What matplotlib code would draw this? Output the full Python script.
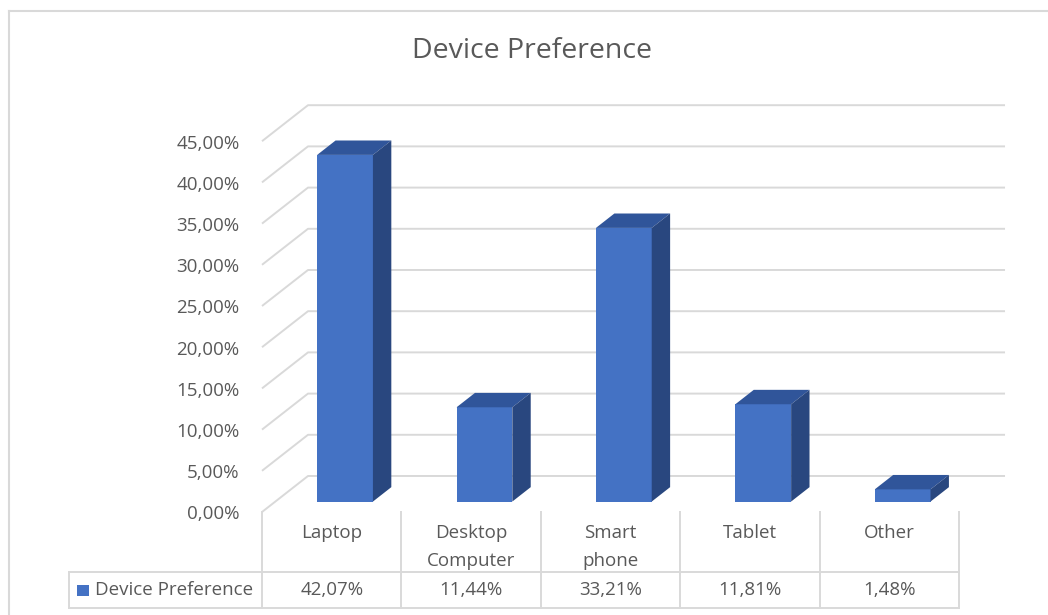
import numpy as np
import matplotlib.pyplot as plt
from matplotlib.patches import Polygon, Rectangle
from matplotlib.lines import Line2D

# chart data
categories = ["Laptop", "Desktop\nComputer", "Smart\nphone", "Tablet", "Other"]
shares = [42.07, 11.44, 33.21, 11.81, 1.48]
ticks = np.arange(0, 50, 5)
series_name = "Device Preference"
title = "Device Preference"

plt.rcParams['font.family'] = ['Open Sans', 'DejaVu Sans']

TEXT = '#595959'
GRID = '#D9D9D9'
FRONT = '#4472C4'
TOP = '#30559A'
SIDE = '#29477F'
FS = 13.5

W, H = 1048, 615
fig = plt.figure(figsize=(W / 100, H / 100), dpi=100)
ax = fig.add_axes([0, 0, 1, 1])

# one category column and one percent point in pixels; origin = front-left floor corner
col_px, pct_px = 139.4, 8.24
x0_px, y0_px = 262, 512
ax.set_xlim(-x0_px / col_px, (W - x0_px) / col_px)
ax.set_ylim(-(H - y0_px) / pct_px, y0_px / pct_px)
ax.axis('off')

# depth direction of the 3D box (back wall offset in data units)
wall_dx, wall_dy = 0.33, 4.37


def depth(f):
    return wall_dx * f, wall_dy * f


n = len(categories)

# gridlines on the back wall with the slanted floor/side edges
for v in ticks:
    ax.plot([0, wall_dx, wall_dx + n], [v, v + wall_dy, v + wall_dy],
            color=GRID, lw=1.4, zorder=1, solid_capstyle='butt')
    ax.text(-0.16, v - 0.3, f"{v:.2f}%".replace('.', ','), ha='right', va='center',
            fontsize=FS, color=TEXT)

# 3D columns
bw = 0.4
fx, fy = depth(0.29)
bx, by = depth(0.69)
ddx, ddy = bx - fx, by - fy
centers = np.arange(n) + 0.5 + fx
ax.bar(centers, shares, width=bw, bottom=fy, color=FRONT, zorder=3)
for c, v in zip(centers, shares):
    l, r = c - bw / 2, c + bw / 2
    ax.add_patch(Polygon([(l, fy + v), (r, fy + v), (r + ddx, fy + v + ddy), (l + ddx, fy + v + ddy)],
                         closed=True, fc=TOP, ec='none', zorder=3))
    ax.add_patch(Polygon([(r, fy), (r + ddx, fy + ddy), (r + ddx, fy + ddy + v), (r, fy + v)],
                         closed=True, fc=SIDE, ec='none', zorder=3))

# data table under the floor
row1 = -60 / pct_px
row2 = -96 / pct_px
key_left = (69 - x0_px) / col_px
for i in range(n + 1):
    ax.plot([i, i], [0, row2], color=GRID, lw=1.4, zorder=1)
ax.plot([key_left, key_left], [row1, row2], color=GRID, lw=1.4, zorder=1)
for yy in (row1, row2):
    ax.plot([key_left, n], [yy, yy], color=GRID, lw=1.4, zorder=1)

for i, (cat, v) in enumerate(zip(categories, shares)):
    ax.text(i + 0.5, -12 / pct_px, cat, ha='center', va='top', fontsize=FS,
            color=TEXT, linespacing=1.75)
    ax.text(i + 0.5, (row1 + row2) / 2, f"{v:.2f}%".replace('.', ','), ha='center',
            va='center', fontsize=FS, color=TEXT)

ax.add_patch(Rectangle((key_left + 8 / col_px, (row1 + row2) / 2 - 5.5 / pct_px),
                       12 / col_px, 11 / pct_px, fc=FRONT, ec='none'))
ax.text(key_left + 26 / col_px, (row1 + row2) / 2, series_name, ha='left', va='center',
        fontsize=FS, color=TEXT)

fig.text(532 / W, 1 - 51 / H, title, ha='center', va='center', fontsize=20.5, color=TEXT)

# chart area border
fig.add_artist(Line2D([9 / W, 9 / W], [0, 1 - 11 / H], transform=fig.transFigure, color=GRID, lw=1.5))
fig.add_artist(Line2D([9 / W, 1], [1 - 11 / H, 1 - 11 / H], transform=fig.transFigure, color=GRID, lw=1.5))

fig.savefig('out.png', dpi=100)
